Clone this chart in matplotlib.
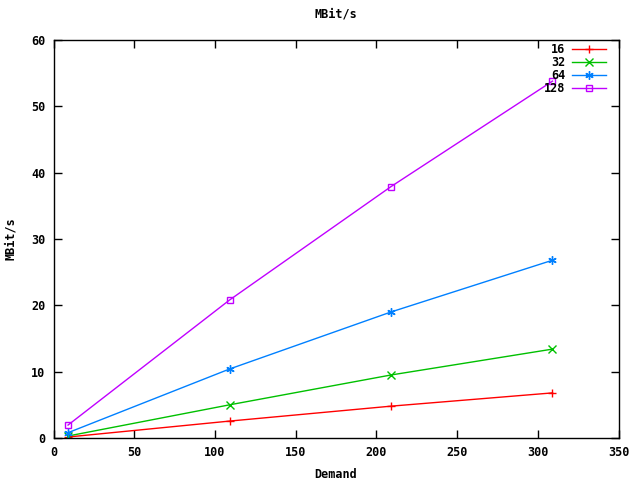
import matplotlib
matplotlib.use("Agg")
import matplotlib.pyplot as plt

demand = [9, 109, 209, 309]
labels = ["16", "32", "64", "128"]
s16 = [0.15, 2.55, 4.8, 6.8]
s32 = [0.3, 5.0, 9.5, 13.4]
s64 = [0.8, 10.4, 19.0, 26.8]
s128 = [1.95, 20.8, 37.9, 53.8]
series = [s16, s32, s64, s128]
colors = ["#ff0000", "#00c000", "#0080ff", "#c000ff"]
markers = ["+", "x", (6, 2, 0), "s"]
xticks = [0, 50, 100, 150, 200, 250, 300, 350]
yticks = [0, 10, 20, 30, 40, 50, 60]

plt.rcParams['font.family'] = ['DejaVu Sans Mono']
plt.rcParams['font.weight'] = 'bold'
plt.rcParams['font.size'] = 8

fig = plt.figure(figsize=(6.4, 4.8), dpi=100)
ax = fig.add_axes([53.5/640, 42/480, (618.7-53.5)/640, (438-40)/480])

for i, (lab, ys) in enumerate(zip(labels, series)):
    mfc = 'none' if markers[i] == 's' else colors[i]
    ms = 5 if markers[i] == 's' else 6
    ax.plot(demand, ys, color=colors[i], lw=1, marker=markers[i], ms=ms,
            mfc=mfc, mec=colors[i], mew=1)
    # legend entry
    yl = 0.977 - i * 0.0327
    ax.text(0.905, yl, lab, transform=ax.transAxes, ha='right', va='center',
            fontsize=8.5, fontweight='bold')
    ax.plot([0.918, 0.977], [yl, yl], transform=ax.transAxes, color=colors[i], lw=1)
    ax.plot([0.9475], [yl], transform=ax.transAxes, color=colors[i], marker=markers[i],
            ms=ms, mfc=mfc, mec=colors[i], mew=1)

ax.set_xlim(0, 350)
ax.set_ylim(0, 60)
ax.set_xticks(xticks)
ax.set_yticks(yticks)
ax.tick_params(direction='in', length=6, top=True, right=True, width=1,
               labelsize=8.5, pad=6)
for sp in ax.spines.values():
    sp.set_linewidth(1)
ax.set_xlabel("Demand", fontsize=8.5, fontweight='bold', labelpad=6)
ax.set_ylabel("MBit/s", fontsize=8.5, fontweight='bold', labelpad=10)
ax.set_title("MBit/s", fontsize=8.5, fontweight='bold', pad=16)

fig.savefig("out.png", dpi=100)
